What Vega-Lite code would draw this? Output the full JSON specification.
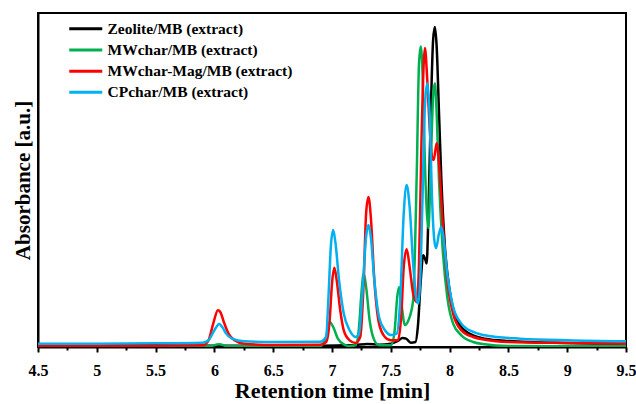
{
 "$schema": "https://vega.github.io/schema/vega-lite/v6.json",
 "width": 588, "height": 334,
 "autosize": {"type": "none"},
 "padding": {"left": 38, "top": 13, "right": 10, "bottom": 57},
 "background": "white",
 "config": {"view": {"stroke": "black", "strokeWidth": 2}, "font": "Liberation Serif"},
 "datasets": {"d": [
  {"s":"Z","t":4.5,"a":0.005},{"s":"Z","t":5.0,"a":0.005},{"s":"Z","t":5.5,"a":0.005},{"s":"Z","t":6.0,"a":0.004},{"s":"Z","t":6.5,"a":0.004},{"s":"Z","t":6.9,"a":0.004},{"s":"Z","t":7.1,"a":0.005},{"s":"Z","t":7.2,"a":0.006},{"s":"Z","t":7.3,"a":0.009},{"s":"Z","t":7.4,"a":0.007},{"s":"Z","t":7.5,"a":0.01},{"s":"Z","t":7.56,"a":0.018},{"s":"Z","t":7.6,"a":0.027},{"s":"Z","t":7.63,"a":0.025},{"s":"Z","t":7.67,"a":0.013},{"s":"Z","t":7.71,"a":0.015},{"s":"Z","t":7.73,"a":0.06},{"s":"Z","t":7.755,"a":0.2},{"s":"Z","t":7.775,"a":0.275},{"s":"Z","t":7.795,"a":0.26},{"s":"Z","t":7.805,"a":0.25},{"s":"Z","t":7.82,"a":0.4},{"s":"Z","t":7.84,"a":0.7},{"s":"Z","t":7.86,"a":0.92},{"s":"Z","t":7.875,"a":0.958},{"s":"Z","t":7.89,"a":0.9},{"s":"Z","t":7.91,"a":0.7},{"s":"Z","t":7.93,"a":0.5},{"s":"Z","t":7.96,"a":0.3},{"s":"Z","t":8.0,"a":0.17},{"s":"Z","t":8.05,"a":0.09},{"s":"Z","t":8.1,"a":0.06},{"s":"Z","t":8.2,"a":0.035},{"s":"Z","t":8.3,"a":0.025},{"s":"Z","t":8.5,"a":0.018},{"s":"Z","t":9.0,"a":0.012},{"s":"Z","t":9.5,"a":0.01},
  {"s":"G","t":4.5,"a":0.002},{"s":"G","t":5.5,"a":0.002},{"s":"G","t":5.95,"a":0.002},{"s":"G","t":6.04,"a":0.008},{"s":"G","t":6.12,"a":0.002},{"s":"G","t":6.9,"a":0.003},{"s":"G","t":6.95,"a":0.03},{"s":"G","t":6.98,"a":0.075},{"s":"G","t":7.01,"a":0.06},{"s":"G","t":7.05,"a":0.025},{"s":"G","t":7.1,"a":0.008},{"s":"G","t":7.15,"a":0.003},{"s":"G","t":7.2,"a":0.005},{"s":"G","t":7.23,"a":0.06},{"s":"G","t":7.25,"a":0.16},{"s":"G","t":7.27,"a":0.22},{"s":"G","t":7.29,"a":0.18},{"s":"G","t":7.32,"a":0.08},{"s":"G","t":7.36,"a":0.02},{"s":"G","t":7.4,"a":0.005},{"s":"G","t":7.5,"a":0.005},{"s":"G","t":7.53,"a":0.04},{"s":"G","t":7.555,"a":0.15},{"s":"G","t":7.57,"a":0.18},{"s":"G","t":7.59,"a":0.13},{"s":"G","t":7.62,"a":0.066},{"s":"G","t":7.65,"a":0.08},{"s":"G","t":7.69,"a":0.14},{"s":"G","t":7.72,"a":0.51},{"s":"G","t":7.74,"a":0.85},{"s":"G","t":7.755,"a":0.9},{"s":"G","t":7.77,"a":0.82},{"s":"G","t":7.79,"a":0.55},{"s":"G","t":7.82,"a":0.356},{"s":"G","t":7.84,"a":0.55},{"s":"G","t":7.86,"a":0.75},{"s":"G","t":7.875,"a":0.79},{"s":"G","t":7.89,"a":0.7},{"s":"G","t":7.91,"a":0.5},{"s":"G","t":7.94,"a":0.3},{"s":"G","t":7.98,"a":0.15},{"s":"G","t":8.03,"a":0.07},{"s":"G","t":8.1,"a":0.035},{"s":"G","t":8.2,"a":0.015},{"s":"G","t":8.3,"a":0.008},{"s":"G","t":8.5,"a":0.003},{"s":"G","t":9.0,"a":0.002},{"s":"G","t":9.5,"a":0.002},
  {"s":"R","t":4.5,"a":0.004},{"s":"R","t":5.0,"a":0.004},{"s":"R","t":5.5,"a":0.004},{"s":"R","t":5.9,"a":0.005},{"s":"R","t":5.95,"a":0.02},{"s":"R","t":5.99,"a":0.07},{"s":"R","t":6.03,"a":0.11},{"s":"R","t":6.05,"a":0.105},{"s":"R","t":6.08,"a":0.075},{"s":"R","t":6.12,"a":0.04},{"s":"R","t":6.17,"a":0.02},{"s":"R","t":6.25,"a":0.01},{"s":"R","t":6.5,"a":0.006},{"s":"R","t":6.9,"a":0.007},{"s":"R","t":6.95,"a":0.015},{"s":"R","t":6.98,"a":0.08},{"s":"R","t":7.0,"a":0.19},{"s":"R","t":7.02,"a":0.237},{"s":"R","t":7.04,"a":0.2},{"s":"R","t":7.07,"a":0.11},{"s":"R","t":7.1,"a":0.05},{"s":"R","t":7.15,"a":0.02},{"s":"R","t":7.2,"a":0.012},{"s":"R","t":7.24,"a":0.03},{"s":"R","t":7.27,"a":0.2},{"s":"R","t":7.29,"a":0.4},{"s":"R","t":7.31,"a":0.449},{"s":"R","t":7.33,"a":0.39},{"s":"R","t":7.36,"a":0.2},{"s":"R","t":7.4,"a":0.07},{"s":"R","t":7.45,"a":0.03},{"s":"R","t":7.5,"a":0.02},{"s":"R","t":7.56,"a":0.02},{"s":"R","t":7.59,"a":0.1},{"s":"R","t":7.61,"a":0.24},{"s":"R","t":7.635,"a":0.293},{"s":"R","t":7.66,"a":0.24},{"s":"R","t":7.69,"a":0.16},{"s":"R","t":7.72,"a":0.135},{"s":"R","t":7.74,"a":0.25},{"s":"R","t":7.76,"a":0.6},{"s":"R","t":7.78,"a":0.85},{"s":"R","t":7.79,"a":0.895},{"s":"R","t":7.81,"a":0.8},{"s":"R","t":7.83,"a":0.66},{"s":"R","t":7.85,"a":0.57},{"s":"R","t":7.865,"a":0.56},{"s":"R","t":7.89,"a":0.61},{"s":"R","t":7.91,"a":0.55},{"s":"R","t":7.94,"a":0.38},{"s":"R","t":7.98,"a":0.2},{"s":"R","t":8.03,"a":0.1},{"s":"R","t":8.1,"a":0.05},{"s":"R","t":8.2,"a":0.03},{"s":"R","t":8.3,"a":0.022},{"s":"R","t":8.5,"a":0.015},{"s":"R","t":9.0,"a":0.012},{"s":"R","t":9.5,"a":0.01},
  {"s":"C","t":4.5,"a":0.01},{"s":"C","t":5.0,"a":0.01},{"s":"C","t":5.5,"a":0.011},{"s":"C","t":5.9,"a":0.013},{"s":"C","t":5.95,"a":0.02},{"s":"C","t":6.0,"a":0.05},{"s":"C","t":6.04,"a":0.069},{"s":"C","t":6.07,"a":0.058},{"s":"C","t":6.1,"a":0.04},{"s":"C","t":6.15,"a":0.025},{"s":"C","t":6.25,"a":0.017},{"s":"C","t":6.5,"a":0.015},{"s":"C","t":6.9,"a":0.016},{"s":"C","t":6.95,"a":0.03},{"s":"C","t":6.97,"a":0.15},{"s":"C","t":6.99,"a":0.3},{"s":"C","t":7.01,"a":0.35},{"s":"C","t":7.03,"a":0.31},{"s":"C","t":7.06,"a":0.2},{"s":"C","t":7.1,"a":0.1},{"s":"C","t":7.15,"a":0.05},{"s":"C","t":7.2,"a":0.03},{"s":"C","t":7.23,"a":0.04},{"s":"C","t":7.26,"a":0.17},{"s":"C","t":7.29,"a":0.33},{"s":"C","t":7.31,"a":0.365},{"s":"C","t":7.33,"a":0.33},{"s":"C","t":7.36,"a":0.2},{"s":"C","t":7.4,"a":0.09},{"s":"C","t":7.45,"a":0.05},{"s":"C","t":7.5,"a":0.036},{"s":"C","t":7.55,"a":0.04},{"s":"C","t":7.58,"a":0.14},{"s":"C","t":7.61,"a":0.4},{"s":"C","t":7.635,"a":0.485},{"s":"C","t":7.66,"a":0.42},{"s":"C","t":7.69,"a":0.25},{"s":"C","t":7.72,"a":0.14},{"s":"C","t":7.735,"a":0.13},{"s":"C","t":7.75,"a":0.2},{"s":"C","t":7.77,"a":0.45},{"s":"C","t":7.79,"a":0.72},{"s":"C","t":7.81,"a":0.79},{"s":"C","t":7.83,"a":0.7},{"s":"C","t":7.85,"a":0.45},{"s":"C","t":7.87,"a":0.32},{"s":"C","t":7.885,"a":0.296},{"s":"C","t":7.91,"a":0.34},{"s":"C","t":7.93,"a":0.36},{"s":"C","t":7.95,"a":0.32},{"s":"C","t":7.98,"a":0.22},{"s":"C","t":8.03,"a":0.12},{"s":"C","t":8.1,"a":0.07},{"s":"C","t":8.2,"a":0.045},{"s":"C","t":8.3,"a":0.035},{"s":"C","t":8.4,"a":0.03},{"s":"C","t":8.6,"a":0.025},{"s":"C","t":9.0,"a":0.02},{"s":"C","t":9.5,"a":0.017}
 ]},
 "data": {"name": "d"},
 "resolve": {"axis": {"x": "independent"}},
 "layer": [
  {
   "mark": {"type": "line", "interpolate": "monotone", "strokeWidth": 2.5, "clip": true},
   "encoding": {
    "x": {"field": "t", "type": "quantitative",
     "scale": {"domain": [4.5, 9.5], "nice": false, "zero": false},
     "axis": {"values": [4.5,5,5.5,6,6.5,7,7.5,8,8.5,9,9.5], "format": "~g", "orient": "bottom",
      "grid": false, "domainColor": "black", "domainWidth": 2, "tickColor": "black", "tickWidth": 2, "tickSize": 5,
      "labelFont": "Liberation Serif", "labelFontWeight": "bold", "labelFontSize": 16, "labelColor": "black", "labelPadding": 10, "labelFlush": false,
      "title": "Retention time [min]", "titleFont": "Liberation Serif", "titleFontWeight": "bold", "titleFontSize": 22, "titleColor": "black", "titlePadding": 2}},
    "y": {"field": "a", "type": "quantitative",
     "scale": {"domain": [0, 1], "nice": false},
     "axis": {"labels": false, "ticks": false, "grid": false, "domainColor": "black", "domainWidth": 2,
      "title": "Absorbance [a.u.]", "titleFont": "Liberation Serif", "titleFontWeight": "bold", "titleFontSize": 21, "titleColor": "black", "titlePadding": 5}},
    "color": {"field": "s", "type": "nominal",
     "scale": {"domain": ["Z", "G", "R", "C"], "range": ["#000000", "#00b050", "#ff0000", "#00b0f0"]},
     "legend": {"orient": "none", "legendX": 40, "legendY": 8, "title": null, "padding": 0,
      "symbolType": "M-3,0H3", "symbolSize": 121, "symbolStrokeWidth": 3,
      "labelFont": "Liberation Serif", "labelFontWeight": "bold", "labelFontSize": 15.5, "labelColor": "black", "labelOffset": 14, "rowPadding": 4.2, "labelLimit": 400,
      "labelExpr": "{'Z': 'Zeolite/MB (extract)', 'G': 'MWchar/MB (extract)', 'R': 'MWchar-Mag/MB (extract)', 'C': 'CPchar/MB (extract)'}[datum.label]"}}
   }
  },
  {
   "mark": {"type": "point", "opacity": 0},
   "encoding": {
    "x": {"field": "t", "type": "quantitative",
     "axis": {"values": [4.75,5.25,5.75,6.25,6.75,7.25,7.75,8.25,8.75,9.25], "orient": "bottom", "labels": false, "domain": false, "grid": false,
      "tickColor": "black", "tickWidth": 2, "tickSize": 3, "title": null}}
   }
  }
 ]
}
